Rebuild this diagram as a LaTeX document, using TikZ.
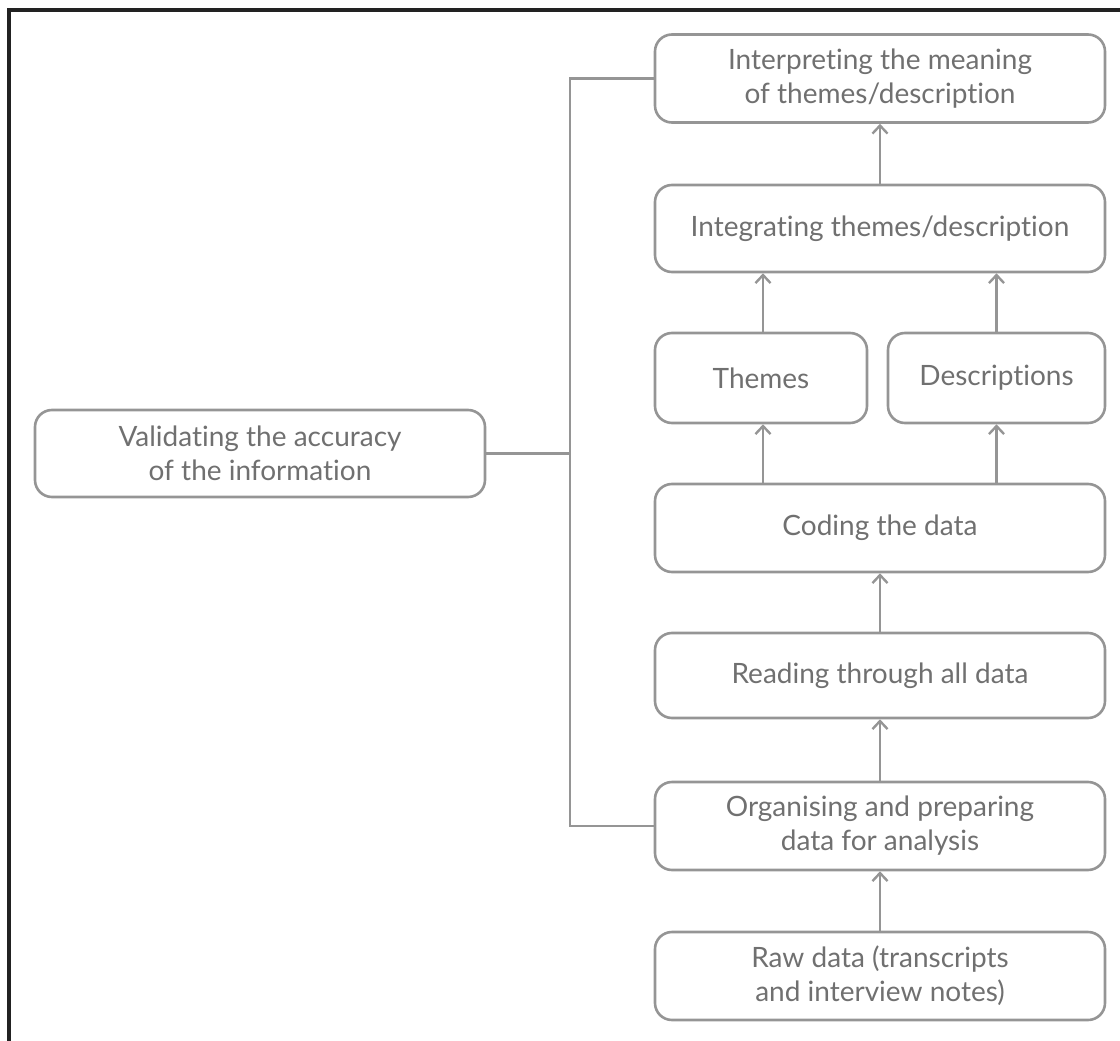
\documentclass[tikz,border=0pt]{standalone}
\usepackage{fontspec}
\setmainfont{Lato}[RawFeature={-liga}]
\usetikzlibrary{arrows.meta}
\definecolor{linegray}{HTML}{959595}
\definecolor{textgray}{HTML}{707070}
\definecolor{frameblack}{HTML}{222222}
\begin{document}
\begin{tikzpicture}[x=1pt,y=-1pt,
  box/.style={draw=linegray,line width=2.6pt,rounded corners=17pt,
    text=textgray,align=center,inner sep=0pt,
    font=\fontsize{28}{34}\selectfont},
  conn/.style={draw=linegray,line width=2.6pt},
  arr/.style={conn,-{Straight Barb[length=8pt,width=15pt,line width=2.4pt]}}]
\useasboundingbox (0,0) rectangle (1120,1041);
\fill[frameblack] (7,8) rectangle (1120,12);
\fill[frameblack] (7,8) rectangle (11,1041);
\node[box,minimum width=450pt,minimum height=88pt] (interp) at (880,78.5) {Interpreting the meaning\\of themes/description};
\node[box,minimum width=450pt,minimum height=87pt] (integ) at (880,228.5) {Integrating themes/description};
\node[box,minimum width=212pt,minimum height=90pt] (themes) at (761,378) {Themes};
\node[box,minimum width=217pt,minimum height=90pt] (descr) at (996.5,378) {Descriptions};
\node[box,minimum width=450pt,minimum height=88pt] (coding) at (880,528) {Coding the data};
\node[box,minimum width=450pt,minimum height=85pt] (reading) at (880,675.5) {Reading through all data};
\node[box,minimum width=450pt,minimum height=88pt] (organ) at (880,826) {Organising and preparing\\data for analysis};
\node[box,minimum width=450pt,minimum height=88pt] (raw) at (880,976) {Raw data (transcripts\\and interview notes)};
\node[box,minimum width=450pt,minimum height=87pt] (valid) at (260,453.5) {Validating the accuracy\\of the information};
\coordinate (jtop) at (570,78.5);
\coordinate (jmid) at (570,453.5);
\coordinate (jbot) at (570,826);
\draw[arr] (integ.north) -- (interp.south);
\draw[arr] (themes.north -| 763,0) -- (integ.south -| 763,0);
\draw[arr] (descr.north) -- (integ.south -| descr.north);
\draw[arr] (coding.north -| 763,0) -- (themes.south -| 763,0);
\draw[arr] (coding.north -| descr.south) -- (descr.south);
\draw[arr] (reading.north) -- (coding.south);
\draw[arr] (organ.north) -- (reading.south);
\draw[arr] (raw.north) -- (organ.south);
\draw[conn] (valid.east) -- (jmid);
\draw[conn] (interp.west) -- (jtop) -- (jbot) -- (organ.west);
\end{tikzpicture}
\end{document}
